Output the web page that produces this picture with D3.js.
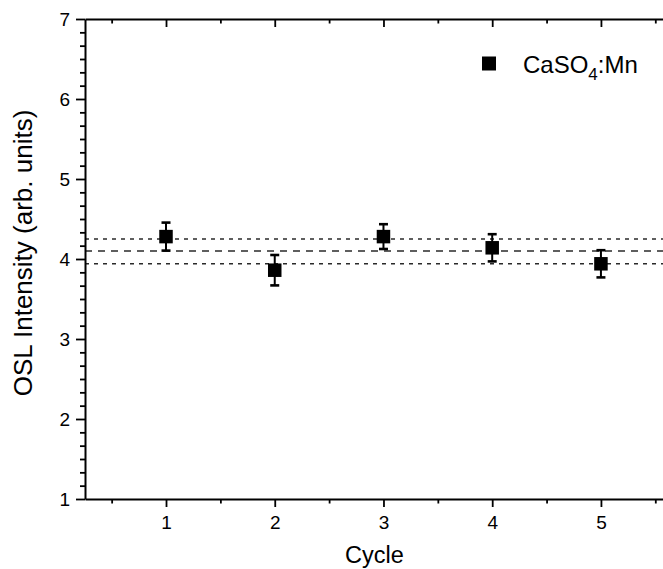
<!DOCTYPE html>
<html lang="en">
<head>
  <meta charset="UTF-8">
  <title>OSL Intensity vs Cycle</title>
  <script src="https://d3js.org/d3.v7.min.js"></script>
  <style>
    body {
      margin: 0;
      background: #fff;
    }
    svg {
      display: block;
    }
    svg text {
      font-family: "Liberation Sans", Arial, sans-serif;
    }
    .axis path, .axis line {
      stroke: #000;
    }
  </style>
</head>
<body>
  <svg width="663" height="569"></svg>
  <script>
    // data
    const cycles = [1, 2, 3, 4, 5];
    const intensity = [4.28, 3.86, 4.28, 4.14, 3.94];
    const errors = [0.175, 0.19, 0.155, 0.17, 0.17];
    const refLines = [4.25, 4.10, 3.94];
    const xTicks = [1, 2, 3, 4, 5];
    const yTicks = [1, 2, 3, 4, 5, 6, 7];
    const seriesName = "CaSO";

    const svg = d3.select("svg");

    const x = d3.scaleLinear().domain([0.255, 5.58]).range([85, 664]);
    const y = d3.scaleLinear().domain([1, 7]).range([499, 19]);
    const fmt = d3.format("d");

    const xMinor = d3.range(0.5, 5.6, 1).filter(v => v > 0.255 && v < 5.58);
    const yMinor = d3.range(1, 7.001, 1 / 6).filter(v => Math.abs(v - Math.round(v)) > 0.01);

    svg.append("rect")
      .attr("width", 663).attr("height", 569)
      .attr("fill", "#fff");

    // dashed reference lines (mean and +/- sd)
    svg.append("g")
      .selectAll("line")
      .data(refLines)
      .join("line")
      .attr("x1", x.range()[0])
      .attr("x2", x.range()[1])
      .attr("y1", d => y(d))
      .attr("y2", d => y(d))
      .attr("stroke", "#2a2a2a")
      .attr("stroke-width", 1.4)
      .attr("stroke-dasharray", (d, i) => i === 1 ? "7,6" : "4,5");

    // bottom axis
    svg.append("g")
      .attr("class", "axis")
      .attr("transform", `translate(0,${y(1)})`)
      .call(d3.axisBottom(x).tickValues(xMinor).tickSize(4.5).tickFormat("").tickSizeOuter(0))
      .call(g => g.select(".domain").remove())
      .selectAll("line").attr("stroke-width", 1.8);

    const xAx = svg.append("g")
      .attr("class", "axis")
      .attr("transform", `translate(0,${y(1)})`)
      .call(d3.axisBottom(x).tickValues(xTicks).tickFormat(fmt).tickSize(8).tickPadding(9).tickSizeOuter(0));
    xAx.attr("font-family", null);
    xAx.select(".domain").attr("stroke-width", 2);
    xAx.selectAll("line").attr("stroke-width", 1.8);
    xAx.selectAll("text").attr("font-size", 19).attr("fill", "#000");

    // top axis, ticks inside
    svg.append("g")
      .attr("class", "axis")
      .attr("transform", `translate(0,${y(7)})`)
      .call(d3.axisBottom(x).tickValues(xMinor).tickSize(4.5).tickFormat("").tickSizeOuter(0))
      .call(g => g.select(".domain").remove())
      .selectAll("line").attr("stroke-width", 1.8);

    const topAx = svg.append("g")
      .attr("class", "axis")
      .attr("transform", `translate(0,${y(7)})`)
      .call(d3.axisBottom(x).tickValues(xTicks).tickSize(8).tickFormat("").tickSizeOuter(0));
    topAx.select(".domain").attr("stroke-width", 2);
    topAx.selectAll("line").attr("stroke-width", 1.8);

    // left axis
    svg.append("g")
      .attr("class", "axis")
      .attr("transform", `translate(${x.range()[0]},0)`)
      .call(d3.axisLeft(y).tickValues(yMinor).tickSize(5).tickFormat("").tickSizeOuter(0))
      .call(g => g.select(".domain").remove())
      .selectAll("line").attr("stroke-width", 1.8);

    const yAx = svg.append("g")
      .attr("class", "axis")
      .attr("transform", `translate(${x.range()[0]},0)`)
      .call(d3.axisLeft(y).tickValues(yTicks).tickFormat(fmt).tickSize(9).tickPadding(6).tickSizeOuter(0));
    yAx.attr("font-family", null);
    yAx.select(".domain").attr("stroke-width", 2);
    yAx.selectAll("line").attr("stroke-width", 1.8);
    yAx.selectAll("text").attr("font-size", 19).attr("fill", "#000");

    // error bars
    const pts = cycles.map((c, i) => ({ c: c, v: intensity[i], e: errors[i] }));
    const eb = svg.append("g").selectAll("g").data(pts).join("g");
    eb.append("line")
      .attr("x1", d => x(d.c)).attr("x2", d => x(d.c))
      .attr("y1", d => y(d.v + d.e)).attr("y2", d => y(d.v - d.e))
      .attr("stroke", "#000").attr("stroke-width", 2);
    eb.selectAll(".cap")
      .data(d => [d.v + d.e, d.v - d.e].map(v => ({ c: d.c, v: v })))
      .join("line")
      .attr("class", "cap")
      .attr("x1", d => x(d.c) - 4.5).attr("x2", d => x(d.c) + 4.5)
      .attr("y1", d => y(d.v)).attr("y2", d => y(d.v))
      .attr("stroke", "#000").attr("stroke-width", 2.6);

    // square markers
    const sq = 13.5;
    svg.append("g").selectAll("rect")
      .data(pts)
      .join("rect")
      .attr("x", d => x(d.c) - sq / 2)
      .attr("y", d => y(d.v) - sq / 2)
      .attr("width", sq).attr("height", sq)
      .attr("fill", "#000");

    // legend
    const legend = svg.append("g");
    legend.append("rect")
      .attr("x", 489 - 7).attr("y", 63.5 - 7)
      .attr("width", 14).attr("height", 14)
      .attr("fill", "#000");
    const lt = legend.append("text")
      .attr("x", 523).attr("y", 73)
      .attr("font-size", 24)
      .attr("fill", "#000");
    lt.append("tspan").text(seriesName);
    lt.append("tspan").attr("font-size", 17).attr("dy", 7).text("4");
    lt.append("tspan").attr("dy", -7).text(":Mn");

    // axis titles
    svg.append("text")
      .attr("x", 374.5).attr("y", 563)
      .attr("text-anchor", "middle")
      .attr("font-size", 23.5)
      .attr("fill", "#000")
      .text("Cycle");

    svg.append("text")
      .attr("transform", `translate(32,253) rotate(-90)`)
      .attr("text-anchor", "middle")
      .attr("font-size", 26)
      .attr("fill", "#000")
      .text("OSL Intensity (arb. units)");
  </script>
</body>
</html>
